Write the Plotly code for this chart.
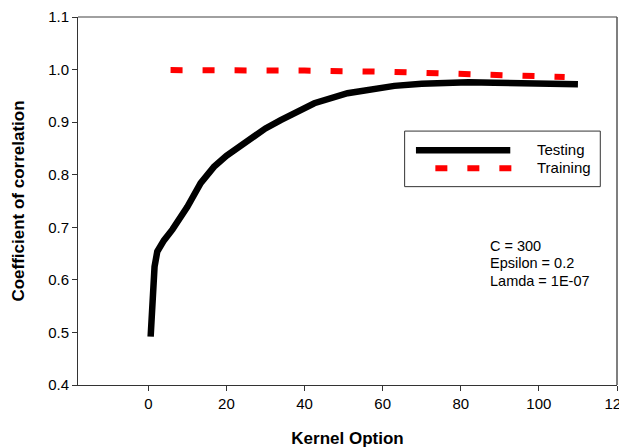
import plotly.graph_objects as go

# Testing series
test_x = [0.6, 0.8, 1.6, 2.3, 3.0, 4.0, 6.2, 8.3, 10.0, 13.4, 16.8, 20, 25.4, 30, 33.9,
          38.2, 42.5, 51, 58.7, 63, 70, 75, 82, 88.6, 95, 100, 110]
test_y = [0.492, 0.530, 0.625, 0.654, 0.665, 0.675, 0.696, 0.720, 0.739, 0.784, 0.815, 0.836,
          0.866, 0.888, 0.904, 0.920, 0.936, 0.955, 0.965, 0.969, 0.973, 0.975, 0.976,
          0.975, 0.974, 0.973, 0.972]

# Training series
train_x = [5.7, 20, 40, 60, 70, 80, 90, 100, 106.6]
train_y = [0.999, 0.999, 0.998, 0.996, 0.994, 0.992, 0.990, 0.988, 0.986]

x_ticks = [0, 20, 40, 60, 80, 100, 120]
y_ticks = [0.4, 0.5, 0.6, 0.7, 0.8, 0.9, 1.0, 1.1]
params_text = ["C = 300", "Epsilon = 0.2", "Lamda = 1E-07"]
params_y = [0.6646, 0.6314, 0.5982]

FONT = "Liberation Sans, Arial, sans-serif"

fig = go.Figure()
fig.add_trace(go.Scatter(x=test_x, y=test_y, mode="lines", name="Testing",
                         line=dict(color="black", width=6.5), showlegend=False))
fig.add_trace(go.Scatter(x=train_x, y=train_y, mode="lines", name="Training",
                         line=dict(color="#ff0000", width=6, dash="12px,20px"),
                         showlegend=False))

# Legend box (drawn as layout decoration)
fig.add_shape(type="rect", xref="paper", yref="paper", x0=0.606, x1=0.969, y0=0.539, y1=0.690,
              line=dict(color="#333333", width=1), fillcolor="white", layer="below")
fig.add_shape(type="line", xref="paper", yref="paper", x0=0.627, x1=0.802, y0=0.638, y1=0.638,
              line=dict(color="black", width=6.5))
fig.add_shape(type="line", xref="paper", yref="paper", x0=0.663, x1=0.806, y0=0.589, y1=0.589,
              line=dict(color="#ff0000", width=6, dash="12px,20px"))
fig.add_annotation(xref="paper", yref="paper", x=0.848, y=0.640, text="Testing",
                   showarrow=False, xanchor="left", yanchor="middle",
                   font=dict(family=FONT, size=15, color="black"))
fig.add_annotation(xref="paper", yref="paper", x=0.848, y=0.591, text="Training",
                   showarrow=False, xanchor="left", yanchor="middle",
                   font=dict(family=FONT, size=15, color="black"))

for txt, yy in zip(params_text, params_y):
    fig.add_annotation(x=87, y=yy, xref="x", yref="y", text=txt,
                       showarrow=False, xanchor="left", yanchor="middle", align="left",
                       font=dict(family=FONT, size=14.5, color="black"))

# Gray frame top/right
fig.add_shape(type="line", xref="paper", yref="paper", x0=0, x1=1, y0=1, y1=1,
              line=dict(color="#808080", width=1.5))
fig.add_shape(type="line", xref="paper", yref="paper", x0=1, x1=1, y0=0, y1=1,
              line=dict(color="#555555", width=1.5))

# page body has an 8px default margin, so the figure is sized to fit the window
fig.update_layout(
    width=619, height=440,
    margin=dict(l=70, r=10, t=9, b=63),
    plot_bgcolor="white", paper_bgcolor="white",
    font=dict(family=FONT, size=15, color="black"),
    showlegend=False,
)
fig.update_xaxes(range=[-18, 120], tickvals=x_ticks, ticks="outside", ticklen=5,
                 tickcolor="#333333", showline=True, linecolor="#333333", linewidth=1,
                 showgrid=False, zeroline=False, automargin=False,
                 ticklabeloverflow="allow",
                 tickfont=dict(family=FONT, size=15),
                 title=dict(text="<b>Kernel Option</b>", standoff=27,
                            font=dict(family=FONT, size=17)))
fig.update_yaxes(range=[0.4, 1.1], tickvals=y_ticks, tickformat=".1f", ticks="outside",
                 ticklen=5, tickcolor="#333333", showline=True, linecolor="#333333",
                 linewidth=1, showgrid=False, zeroline=False, automargin=False,
                 tickfont=dict(family=FONT, size=15),
                 title=dict(text="<b>Coefficient of correlation</b>", standoff=19,
                            font=dict(family=FONT, size=17)))

fig.write_html("out.html")
